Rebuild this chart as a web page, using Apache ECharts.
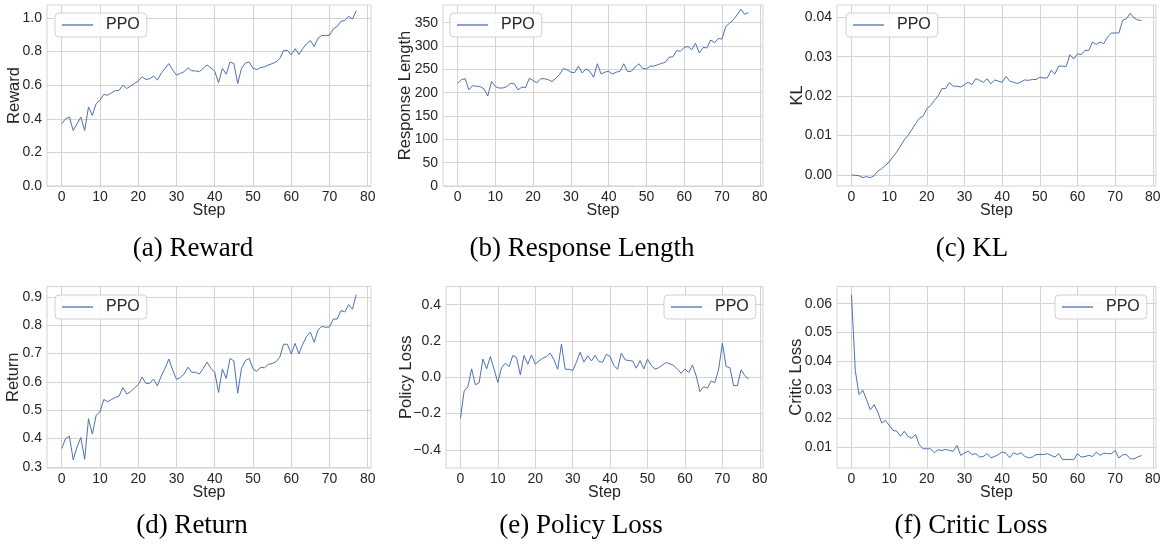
<!DOCTYPE html>
<html><head><meta charset="utf-8">
<script src="https://cdn.jsdelivr.net/npm/echarts@6/dist/echarts.min.js"></script>
<style>html,body{margin:0;padding:0;background:#fff}#c{width:1164px;height:550px}</style>
</head><body><div id="c"></div>
<script>
// ---- data (steps 0..77) ----
const reward = [
 0.37,0.40,0.41,0.33,0.37,0.41,0.33,0.47,0.42,0.49,
 0.51,0.545,0.54,0.555,0.567,0.57,0.60,0.58,0.595,0.61,
 0.624,0.65,0.634,0.638,0.655,0.63,0.67,0.70,0.728,0.69,
 0.66,0.67,0.68,0.703,0.685,0.685,0.68,0.70,0.72,0.703,
 0.683,0.614,0.70,0.665,0.738,0.728,0.61,0.70,0.732,0.738,
 0.70,0.693,0.705,0.709,0.72,0.728,0.738,0.758,0.807,0.807,
 0.78,0.817,0.783,0.817,0.846,0.866,0.83,0.88,0.896,0.896,
 0.896,0.935,0.949,0.98,0.984,1.01,0.994,1.043];
const responseLength = [
 220,228,230,206,215,214,213,208,193,224,
 213,210,210,213,220,219,206,212,211,231,
 226,221,230,230,228,224,231,239,252,249,
 244,243,257,242,251,246,233,262,240,244,
 246,240,244,246,262,245,246,255,262,252,
 251,257,257,260,263,265,276,277,290,289,
 297,299,292,306,285,297,296,313,307,316,
 315,342,349,356,367,379,368,372];
const kl = [
 0.0000,-0.0001,-0.0002,-0.0007,-0.0004,-0.0007,-0.0002,0.0010,0.0016,0.0024,
 0.0033,0.0046,0.0058,0.0073,0.0089,0.0100,0.0115,0.0130,0.0143,0.0149,
 0.0168,0.0176,0.0189,0.0200,0.0219,0.0219,0.0234,0.0225,0.0225,0.0223,
 0.0229,0.0235,0.0229,0.0244,0.0240,0.0235,0.0244,0.0231,0.0241,0.0238,
 0.0235,0.0250,0.0238,0.0235,0.0232,0.0236,0.0241,0.0240,0.0242,0.0242,
 0.0248,0.0246,0.0246,0.0265,0.0256,0.0276,0.0276,0.0275,0.0305,0.0294,
 0.0307,0.0305,0.0316,0.0316,0.0337,0.0331,0.0337,0.0333,0.0350,0.0360,
 0.0360,0.0360,0.0392,0.0396,0.0410,0.0398,0.0393,0.0392];
const returns = [
 0.365,0.40,0.408,0.325,0.37,0.404,0.327,0.47,0.416,0.482,
 0.494,0.538,0.53,0.538,0.545,0.55,0.58,0.557,0.566,0.578,
 0.59,0.617,0.595,0.595,0.61,0.586,0.62,0.648,0.681,0.642,
 0.609,0.616,0.628,0.652,0.634,0.634,0.628,0.648,0.67,0.648,
 0.634,0.563,0.646,0.612,0.683,0.674,0.56,0.648,0.675,0.683,
 0.646,0.637,0.652,0.65,0.662,0.665,0.671,0.687,0.733,0.733,
 0.699,0.736,0.699,0.733,0.76,0.776,0.74,0.784,0.796,0.793,
 0.794,0.822,0.822,0.852,0.847,0.873,0.857,0.908];
const policyLoss = [
 -0.227,-0.076,-0.052,0.046,-0.042,-0.03,0.10,0.046,0.114,0.044,
 -0.028,0.053,0.077,0.059,0.12,0.109,0.013,0.12,0.072,0.123,
 0.072,0.09,0.105,0.114,0.133,0.096,0.044,0.182,0.044,0.044,
 0.037,0.083,0.138,0.083,0.118,0.09,0.12,0.087,0.083,0.127,
 0.114,0.065,0.044,0.133,0.096,0.092,0.09,0.05,0.092,0.046,
 0.10,0.065,0.044,0.053,0.068,0.081,0.074,0.065,0.044,0.022,
 0.046,0.026,0.068,0.007,-0.079,-0.052,-0.06,-0.02,-0.03,0.044,
 0.188,0.059,0.053,-0.046,-0.046,0.041,0.009,-0.011];
const criticLoss = [
 0.0631,0.0367,0.0283,0.0298,0.0265,0.0230,0.0248,0.0222,0.0184,0.0193,
 0.0176,0.0158,0.0156,0.0138,0.0155,0.0137,0.0131,0.0144,0.0108,0.0094,
 0.0094,0.0094,0.0080,0.0091,0.0088,0.0092,0.0088,0.0085,0.0106,0.0071,
 0.0079,0.0086,0.0074,0.0077,0.0065,0.0067,0.0077,0.0063,0.0067,0.0074,
 0.0083,0.0079,0.0063,0.0080,0.0074,0.0080,0.0068,0.0062,0.0065,0.0074,
 0.0074,0.0074,0.0077,0.0071,0.0065,0.0077,0.0057,0.0057,0.0057,0.0056,
 0.0077,0.0065,0.0067,0.0071,0.0067,0.0083,0.0071,0.0079,0.0077,0.0077,
 0.0088,0.0062,0.0073,0.0074,0.0059,0.0059,0.0065,0.0071];

const seriesName = 'PPO';
const xLabel = 'Step';
const xLimits = [-3.85, 80.85];
const xTicks = [0, 80, 10];

const panels = [
 {ylabel:'Reward', data:reward, ylim:[0,1.077], yticks:[0,1.0,0.2], dec:1, caption:'(a) Reward'},
 {ylabel:'Response Length', data:responseLength, ylim:[0,388], yticks:[0,350,50], dec:0, caption:'(b) Response Length'},
 {ylabel:'KL', data:kl, ylim:[-0.0028,0.0431], yticks:[0,0.04,0.01], dec:2, caption:'(c) KL'},
 {ylabel:'Return', data:returns, ylim:[0.296,0.937], yticks:[0.3,0.9,0.1], dec:1, caption:'(d) Return'},
 {ylabel:'Policy Loss', data:policyLoss, ylim:[-0.5,0.5], yticks:[-0.4,0.4,0.2], dec:1, caption:'(e) Policy Loss'},
 {ylabel:'Critic Loss', data:criticLoss, ylim:[0.0027,0.066], yticks:[0.01,0.06,0.01], dec:2, caption:'(f) Critic Loss'}
];

// ---- layout / style ----
const layout = [
 {box:[47,5,324,181], legend:[55,13], nameGap:24, cap:[193,249]},
 {box:[443,5,320,181], legend:[450,13], nameGap:29, cap:[582,249]},
 {box:[837,5,319,181], legend:[846,13], nameGap:31, cap:[972,249]},
 {box:[47,286.5,324,181.5], legend:[55,295], nameGap:25, cap:[192,526]},
 {box:[446,286.5,317,181.5], legend:[664,295], nameGap:31, cap:[581,526]},
 {box:[837,286.5,319,181.5], legend:[1055,295], nameGap:32, cap:[971,526]}
];
const FONT = 'Liberation Sans';
const TXT = '#262626';
const GRIDC = '#d3d3d3';
const LINEC = '#4c72b0';

const grid=[], xAxis=[], yAxis=[], series=[], legend=[], graphic=[];
const hidden = {axisLine:{show:false}, axisTick:{show:false}, axisLabel:{show:false}, splitLine:{show:false}};

function fmt(v, dec){
  const r = Math.round(v*Math.pow(10,dec))/Math.pow(10,dec);
  const s = Math.abs(r).toFixed(dec);
  return (r < 0 ? '\u2212' : '') + s;
}

panels.forEach((p, i) => {
  const lay = layout[i];
  const [L,T,W,H] = lay.box;
  const [y0,y1] = p.ylim;
  const [t0,t1,ti] = p.yticks;
  const g = grid.length;
  grid.push({left:L, top:T, width:W, height:H, show:true, borderColor:GRIDC, borderWidth:1, backgroundColor:'rgba(0,0,0,0)'});
  xAxis.push(Object.assign({gridIndex:g, type:'value', min:xLimits[0], max:xLimits[1],
    name:xLabel, nameLocation:'middle', nameGap:17,
    nameTextStyle:{fontFamily:FONT, fontSize:16, color:TXT}}, hidden));
  yAxis.push(Object.assign({gridIndex:g, type:'value', min:y0, max:y1,
    name:p.ylabel, nameLocation:'middle', nameGap:lay.nameGap, nameRotate:90,
    nameTextStyle:{fontFamily:FONT, fontSize:16.5, color:TXT}}, hidden));
  const xs = W/(xLimits[1]-xLimits[0]);
  grid.push({left:L + (xTicks[0]-xLimits[0])*xs, top:T, width:(xTicks[1]-xTicks[0])*xs, height:H});
  xAxis.push({gridIndex:g+1, type:'value', min:xTicks[0], max:xTicks[1], interval:xTicks[2],
    axisLine:{show:false}, axisTick:{show:false},
    axisLabel:{fontFamily:FONT, fontSize:14, color:TXT, margin:4},
    splitLine:{show:true, lineStyle:{color:GRIDC, width:1}}});
  yAxis.push(Object.assign({gridIndex:g+1, type:'value', min:y0, max:y1}, hidden));
  const ys = H/(y1-y0);
  grid.push({left:L, top:T + (y1-t1)*ys, width:W, height:(t1-t0)*ys});
  xAxis.push(Object.assign({gridIndex:g+2, type:'value', min:xLimits[0], max:xLimits[1]}, hidden));
  yAxis.push({gridIndex:g+2, type:'value', min:t0, max:t1, interval:ti,
    axisLine:{show:false}, axisTick:{show:false},
    axisLabel:{fontFamily:FONT, fontSize:14, color:TXT, margin:5, formatter:(v)=>fmt(v,p.dec)},
    splitLine:{show:true, lineStyle:{color:GRIDC, width:1}}});
  series.push({type:'line', name:seriesName, xAxisIndex:g, yAxisIndex:g,
    data:p.data.map((v,k)=>[k,v]), symbol:'none', showSymbol:false, clip:false,
    lineStyle:{color:LINEC, width:1}, itemStyle:{color:LINEC}, z:5});
  legend.push({data:[seriesName], left:lay.legend[0], top:lay.legend[1], icon:'rect',
    itemWidth:31, itemHeight:1.3, padding:[4,7,4,7], borderColor:'#d0d0d0', borderWidth:1,
    borderRadius:4, backgroundColor:'rgba(255,255,255,0.85)', selectedMode:false,
    textStyle:{fontFamily:FONT, fontSize:16, color:TXT, padding:[0,0,0,8]}, z:10});
  graphic.push({type:'text', x:lay.cap[0], y:lay.cap[1],
    style:{text:p.caption, font:'27px "Liberation Serif"', fill:'#000',
      textAlign:'center', textVerticalAlign:'middle', align:'center', verticalAlign:'middle'}});
});

const chart = echarts.init(document.getElementById('c'), null, {renderer:'canvas'});
chart.setOption({animation:false, backgroundColor:'#fff', grid, xAxis, yAxis, series, legend, graphic});
</script></body></html>
